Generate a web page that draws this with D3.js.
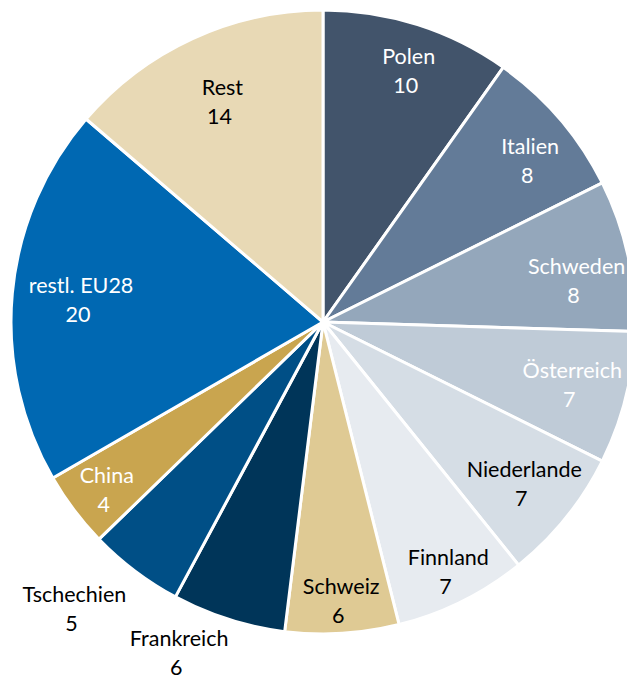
<!DOCTYPE html>
<html>
<head>
<meta charset="utf-8">
<script src="https://cdn.jsdelivr.net/npm/d3@7"></script>
<style>
  body { margin: 0; background: #fff; }
  svg { display: block; }
  text { font-family: Lato, "Open Sans", sans-serif; font-size: 21.5px; }
</style>
</head>
<body>
<div id="chart"></div>
<script>
// data
var names = ["Polen", "Italien", "Schweden", "Österreich", "Niederlande", "Finnland",
             "Schweiz", "Frankreich", "Tschechien", "China", "restl. EU28", "Rest"];
var values = [10, 8, 8, 7, 7, 7, 6, 6, 5, 4, 20, 14];
var colors = ["#42546b", "#637b98", "#94a7bb", "#bfcbd7", "#d5dde5", "#e7ebf0",
              "#dfca94", "#003559", "#004f86", "#c9a54f", "#0068b2", "#e8d9b5"];
var textColors = ["#fff", "#fff", "#fff", "#fff", "#000", "#000",
                  "#000", "#000", "#000", "#fff", "#fff", "#000"];

// label distance from centre (px), per slice; Frankreich and Tschechien sit outside
var labelRadius = [265, 262, 256, 256, 257, 279, 279, 361, 380, 274, 244, 243];
// small angle shift (degrees) of each label block
var labelShift = [1, 2.5, 3, 0, 0, 0, 0, 6, 4, -0.5, 0, 0];

var width = 627, height = 684,
    cx = 323, cy = 322, radius = 312;

var svg = d3.select("#chart").append("svg")
  .attr("width", width)
  .attr("height", height);

var g = svg.append("g")
  .attr("transform", "translate(" + cx + "," + cy + ")");

var data = names.map(function(n, i) { return {name: n, value: values[i], i: i}; });

var pie = d3.pie()
  .sort(null)
  .value(function(d) { return d.value; });

var arc = d3.arc().innerRadius(0).outerRadius(radius);

var arcs = pie(data);

g.selectAll(".slice").data(arcs).enter()
  .append("path")
  .attr("class", "slice")
  .attr("d", arc)
  .attr("fill", function(d) { return colors[d.data.i]; })
  .attr("stroke", "#fff")
  .attr("stroke-width", 3)
  .attr("stroke-linejoin", "round");

function labelPos(d) {
  var a = (d.startAngle + d.endAngle) / 2 + labelShift[d.data.i] * Math.PI / 180,
      r = labelRadius[d.data.i];
  return [r * Math.sin(a), -r * Math.cos(a)];
}

var labels = g.selectAll(".label").data(arcs).enter()
  .append("text")
  .attr("class", "label")
  .attr("text-anchor", "middle")
  .attr("fill", function(d) { return textColors[d.data.i]; })
  .attr("transform", function(d) {
    var c = labelPos(d);
    return "translate(" + c[0] + "," + c[1] + ")";
  });

labels.append("tspan")
  .attr("x", 1)
  .attr("y", -6.5)
  .text(function(d) { return d.data.name; });

labels.append("tspan")
  .attr("x", -2)
  .attr("y", 22.5)
  .text(function(d) { return d.data.value; });
</script>
</body>
</html>
